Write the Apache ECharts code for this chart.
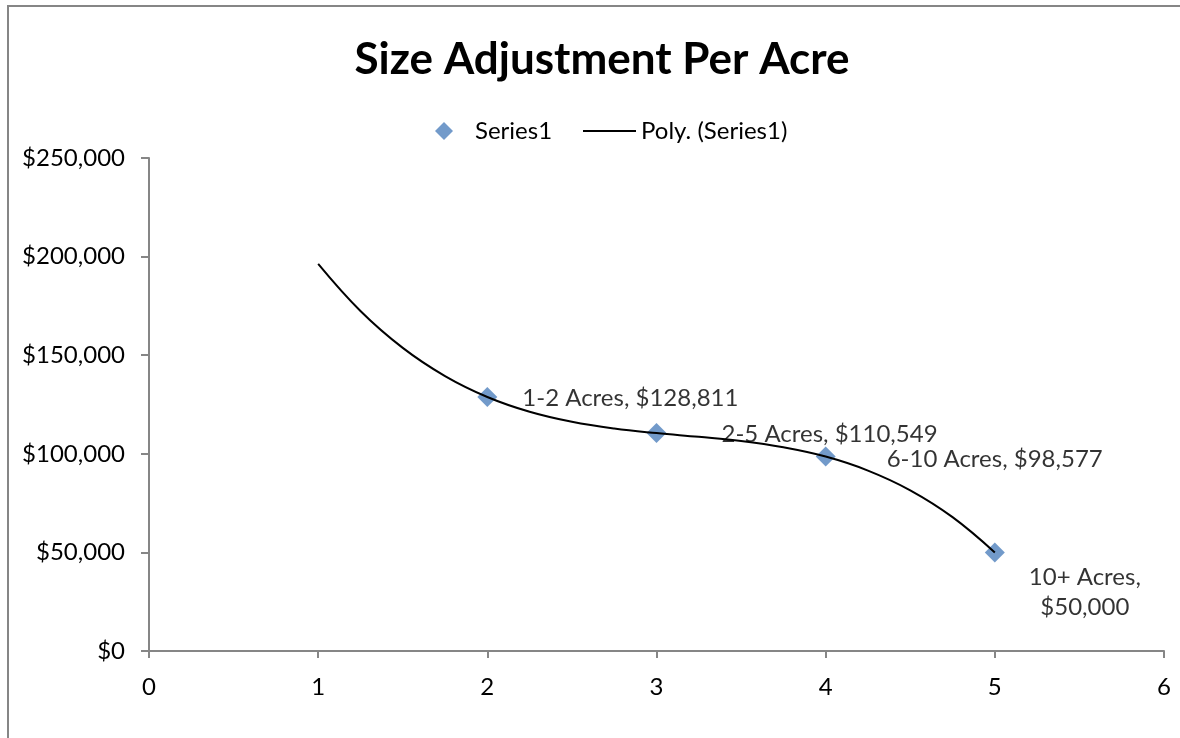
<!DOCTYPE html>
<html>
<head>
<meta charset="utf-8">
<script src="https://cdn.jsdelivr.net/npm/echarts@6/dist/echarts.min.js"></script>
<style>
  html, body { margin: 0; padding: 0; background: #fff; }
  #chart { width: 1180px; height: 738px; }
</style>
</head>
<body>
<div id="chart"></div>
<script>
// observed points
const sizeX = [2, 3, 4, 5];
const sizeValues = [128811, 110549, 98577, 50000];
const sizeNames = ['1-2 Acres', '2-5 Acres', '6-10 Acres', '10+ Acres'];

// trendline
const trendX = [1, 1.25, 1.5, 1.75, 2, 2.25, 2.5, 2.75, 3, 3.25, 3.5, 3.75, 4, 4.25, 4.5, 4.75, 5];
const trendValues = [196300, 172400, 153700, 139400, 128800, 121300, 116200, 112800, 110500,
  108600, 106500, 103300, 98600, 91500, 81500, 67900, 50000];

const xTicks = [0, 1, 2, 3, 4, 5, 6];
const yTicks = [0, 50000, 100000, 150000, 200000, 250000];

const font = 'Lato, "Open Sans", sans-serif';
const axisGray = '#868686';

const money = v => '$' + v.toLocaleString('en-US');

// label placement per point (right of the marker, last one wrapped below)
const labelLayout = [
  { position: 'right', offset: [20, 1] },
  { position: 'right', offset: [50, 1] },
  { position: 'right', offset: [46, 3] },
  { position: 'right', offset: [75, 40], align: 'center', lineHeight: 30 }
];

const chart = echarts.init(document.getElementById('chart'));

chart.setOption({
  animation: false,
  title: {
    text: 'Size Adjustment Per Acre',
    left: 597,
    top: 33,
    textAlign: 'center',
    textStyle: { fontFamily: font, fontSize: 44, fontWeight: 'bold', color: '#000' }
  },
  legend: [
    {
      data: ['Series1'],
      left: 430,
      top: 114,
      icon: 'diamond',
      itemWidth: 18,
      itemHeight: 18,
      textStyle: { fontFamily: font, fontSize: 24, color: '#000', padding: [0, 0, 0, 17] }
    },
    {
      data: ['Poly. (Series1)'],
      left: 578,
      top: 114,
      icon: 'rect',
      itemWidth: 53,
      itemHeight: 2,
      itemStyle: { color: '#000' },
      textStyle: { fontFamily: font, fontSize: 24, color: '#000' }
    }
  ],
  grid: { left: 149, right: 16, top: 158, bottom: 87 },
  xAxis: {
    type: 'value',
    min: xTicks[0],
    max: xTicks[xTicks.length - 1],
    interval: 1,
    axisLine: { lineStyle: { color: axisGray, width: 2 } },
    axisTick: { show: true, length: 7, lineStyle: { color: axisGray, width: 2 } },
    axisLabel: { margin: 24, fontFamily: font, fontSize: 24, color: '#000' },
    splitLine: { show: false }
  },
  yAxis: {
    type: 'value',
    min: yTicks[0],
    max: yTicks[yTicks.length - 1],
    interval: 50000,
    axisLine: { show: true, lineStyle: { color: axisGray, width: 2 } },
    axisTick: { show: true, inside: false, length: 8, lineStyle: { color: axisGray, width: 2 } },
    axisLabel: { margin: 24, fontFamily: font, fontSize: 24, color: '#000', formatter: money },
    splitLine: { show: false }
  },
  graphic: [
    {
      type: 'rect',
      shape: { x: 8, y: 6, width: 1200, height: 760 },
      style: { fill: 'none', stroke: axisGray, lineWidth: 2 },
      silent: true,
      z: -1
    }
  ],
  series: [
    {
      name: 'Series1',
      type: 'scatter',
      symbol: 'diamond',
      symbolSize: 20,
      itemStyle: { color: '#4F81BD' },
      z: 2,
      data: sizeX.map((x, i) => ({
        value: [x, sizeValues[i]],
        label: Object.assign({
          show: true,
          fontFamily: font,
          fontSize: 24,
          color: '#000',
          formatter: i === 3
            ? sizeNames[i] + ',\n' + money(sizeValues[i])
            : sizeNames[i] + ', ' + money(sizeValues[i])
        }, labelLayout[i])
      }))
    },
    {
      name: 'Poly. (Series1)',
      type: 'line',
      smooth: 0.4,
      showSymbol: false,
      symbol: 'none',
      lineStyle: { color: '#000', width: 2 },
      itemStyle: { color: '#000' },
      z: 3,
      data: trendX.map((x, i) => [x, trendValues[i]])
    }
  ]
});
</script>
</body>
</html>
